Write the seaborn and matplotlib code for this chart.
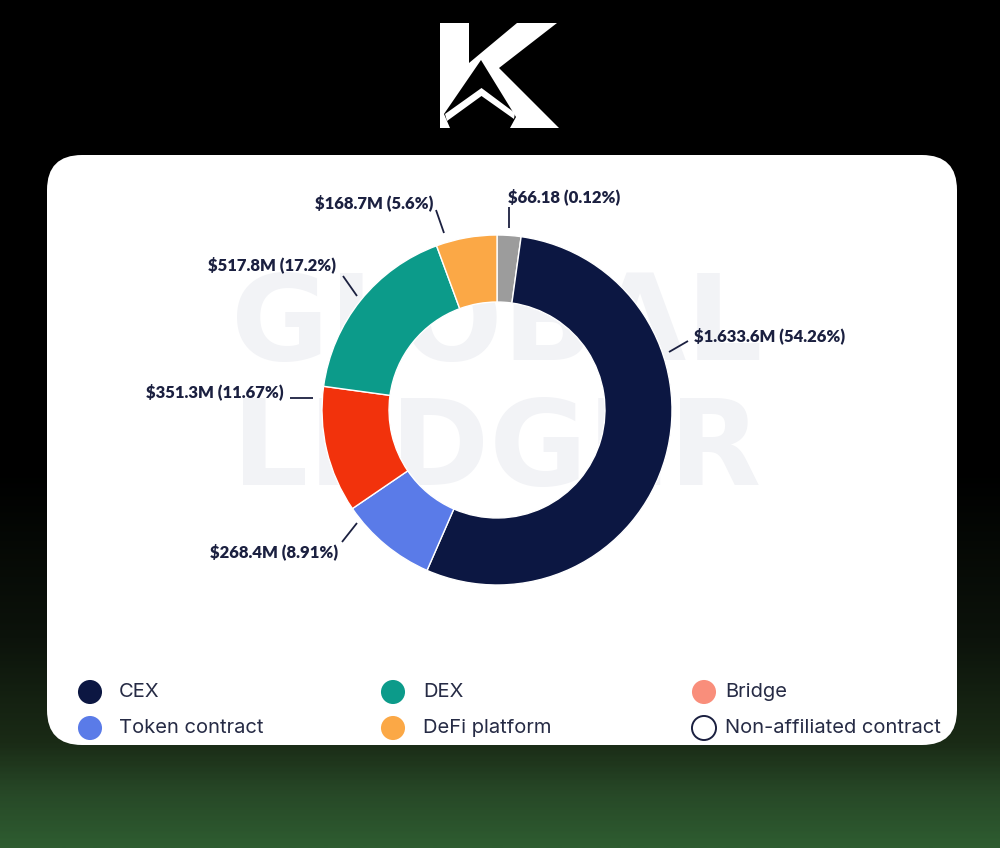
import numpy as np
import pandas as pd
import matplotlib
matplotlib.use("Agg")
import matplotlib.pyplot as plt
from matplotlib.patches import FancyBboxPatch, Polygon
from matplotlib.colors import LinearSegmentedColormap
import seaborn as sns

# ---- data -------------------------------------------------------------
# donut slices, clockwise from 12 o'clock (values in $M)
slice_names = ["Non-affiliated contract", "CEX", "Token contract", "Bridge", "DEX", "DeFi platform"]
slice_values = [66.18, 1633.6, 268.4, 351.3, 517.8, 168.7]
slice_amount_text = ["$66.18", "$1.633.6M", "$268.4M", "$351.3M", "$517.8M", "$168.7M"]
slice_share_text = ["0.12%", "54.26%", "8.91%", "11.67%", "17.2%", "5.6%"]
slice_colors = ["#9c9c9c", "#0c1742", "#5a7be8", "#f2320c", "#0c9b8a", "#fba846"]

# legend entries (row-major, three columns)
legend_names = ["CEX", "DEX", "Bridge", "Token contract", "DeFi platform", "Non-affiliated contract"]
legend_colors = ["#0c1742", "#0c9b8a", "#f98e7b", "#5a7be8", "#fba846", "#ffffff"]

watermark_lines = ["GLOBAL", "LEDGER"]

# ---- figure -----------------------------------------------------------
sns.set_theme(style="white")
plt.rcParams["font.family"] = ["DejaVu Sans"]

W, H = 1000, 848
fig = plt.figure(figsize=(W / 100, H / 100), dpi=100)

# full-figure canvas in pixel units (y downward)
bg = fig.add_axes([0, 0, 1, 1])
bg.set_xlim(0, W)
bg.set_ylim(H, 0)
bg.axis("off")

# black-to-green vertical backdrop
stops = [(0.0, "#000000"), (470 / H, "#000000"), (640 / H, "#0c130b"),
         (745 / H, "#1a2b16"), (795 / H, "#274827"), (1.0, "#2e5c30")]
cmap = LinearSegmentedColormap.from_list("backdrop", stops)
grad = np.linspace(0, 1, 400).reshape(-1, 1)
bg.imshow(grad, cmap=cmap, aspect="auto", extent=[0, W, H, 0], zorder=0)

# brand mark
ink = "#ffffff"
k_body = [(440, 23), (469, 23), (469, 63), (517, 23), (557, 23), (499, 68),
          (559, 128), (440, 128)]
k_cut = [(481, 60), (444, 114), (450, 128), (510, 128), (516, 117)]
k_chevron = [(445, 114), (481.5, 88), (515, 113), (514, 119), (481.5, 96), (447, 121)]
bg.add_patch(Polygon(k_body, closed=True, fc=ink, ec="none", zorder=2))
bg.add_patch(Polygon(k_cut, closed=True, fc="#000000", ec="none", zorder=3))
bg.add_patch(Polygon(k_chevron, closed=True, fc=ink, ec="none", zorder=4))

# white card
r = 35
card = FancyBboxPatch((47 + r, 155 + r), 910 - 2 * r, 590 - 2 * r,
                      boxstyle=f"round,pad={r}", fc="white", ec="none", zorder=2)
bg.add_patch(card)

# faint watermark behind the donut
for txt, yc in zip(watermark_lines, [327, 452]):
    bg.text(497, yc, txt, ha="center", va="center", fontsize=86,
            fontweight="bold", color="#f2f3f6", zorder=3)

# ---- donut ------------------------------------------------------------
cx, cy, R = 497, 410, 175
pie_ax = fig.add_axes([(cx - R) / W, (H - cy - R) / H, 2 * R / W, 2 * R / H])
pie_ax.set_facecolor("none")
pie_ax.pie(slice_values, colors=slice_colors, startangle=90, counterclock=False,
           radius=1, wedgeprops=dict(width=0.383, edgecolor="white", linewidth=1))
pie_ax.set_xlim(-1, 1)
pie_ax.set_ylim(-1, 1)
pie_ax.axis("off")

# value labels with leader lines (pixel layout per slice)
label_layout = [
    dict(text=(508, 197), ha="left", line=((509, 207), (509, 228))),
    dict(text=(694, 336), ha="left", line=((669, 352), (688, 341))),
    dict(text=(338, 552), ha="right", line=((342, 542), (357, 523))),
    dict(text=(284, 392), ha="right", line=((290, 398), (313, 398))),
    dict(text=(336, 265), ha="right", line=((343, 276), (357, 296))),
    dict(text=(433, 203), ha="right", line=((436, 210), (444, 233))),
]
label_color = "#1b2040"
for amt, share, lay in zip(slice_amount_text, slice_share_text, label_layout):
    (x0, y0), (x1, y1) = lay["line"]
    bg.plot([x0, x1], [y0, y1], color=label_color, lw=1.3, zorder=5,
            solid_capstyle="butt")
    tx, ty = lay["text"]
    bg.text(tx, ty, f"{amt} ({share})", ha=lay["ha"], va="center",
            fontsize=12, fontweight="heavy", color=label_color, zorder=5,
            family=["Lato", "DejaVu Sans"], parse_math=False)

# ---- legend -----------------------------------------------------------
marker_x = [90, 393, 704]
text_x = [119, 423, 725]
row_y = [692, 728]
leg = pd.DataFrame({
    "name": legend_names,
    "x": [marker_x[i % 3] for i in range(len(legend_names))],
    "y": [row_y[i // 3] for i in range(len(legend_names))],
})
edge = [c if c != "#ffffff" else "#1b2040" for c in legend_colors]
sns.scatterplot(data=leg, x="x", y="y", hue="name", palette=dict(zip(legend_names, legend_colors)),
                s=300, edgecolor=edge, linewidth=[0 if c != "#ffffff" else 1.4 for c in legend_colors],
                legend=False, ax=bg, zorder=6)
for i, name in enumerate(legend_names):
    bg.text(text_x[i % 3], row_y[i // 3], name, ha="left", va="center",
            fontsize=14.5, color="#262b45", family=["Inter", "DejaVu Sans"], zorder=6)

bg.set_xlim(0, W)
bg.set_ylim(H, 0)
bg.set_xlabel("")
bg.set_ylabel("")

fig.savefig("out.png", dpi=100)
